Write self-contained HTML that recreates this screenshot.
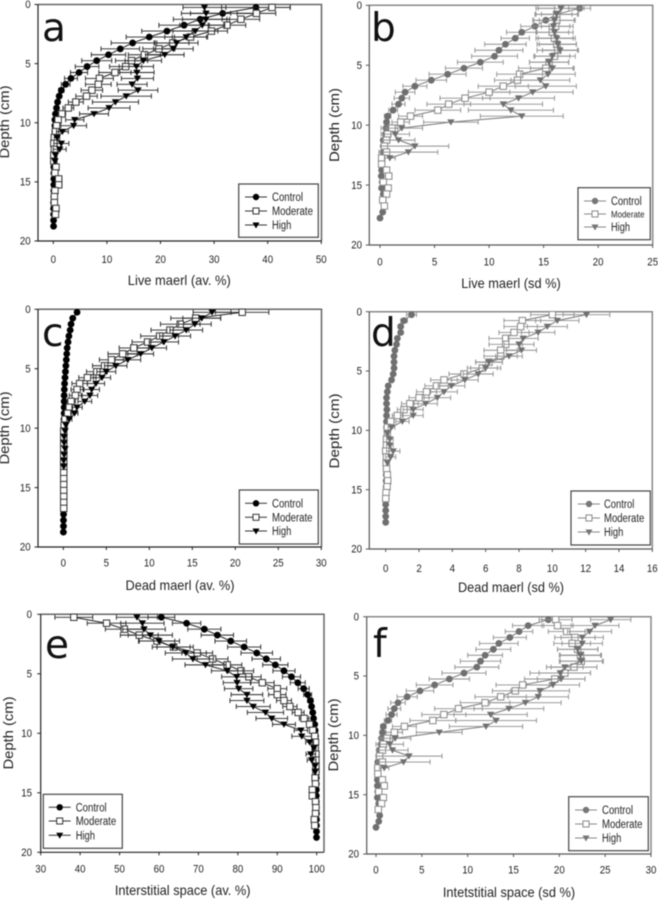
<!DOCTYPE html>
<html lang="en">
<head>
<meta charset="utf-8">
<title>Maerl depth profiles</title>
<style>
html,body{margin:0;padding:0;background:#fff;}
svg{display:block;font-family:"Liberation Sans",sans-serif;filter:blur(.4px);}
.tick{font-size:11px;fill:#222;}
.title{font-size:14px;fill:#222;}
.letter{font-family:"DejaVu Sans",sans-serif;font-size:39px;fill:#111;}
.leg{font-size:11.5px;fill:#222;}
.box{fill:#fff;stroke:#444;stroke-width:1.2;}
</style>
</head>
<body>
<svg id="fig" width="658" height="901" viewBox="0 0 658 901" xmlns="http://www.w3.org/2000/svg">
<g id="panel-a">
<text class="letter" x="42" y="41">a</text>
<text class="title" x="179.3" y="285" text-anchor="middle" textLength="103" lengthAdjust="spacingAndGlyphs">Live maerl (av. %)</text>
<text class="title" transform="translate(9,122) rotate(-90)" text-anchor="middle" textLength="73" lengthAdjust="spacingAndGlyphs">Depth (cm)</text>
</g>
<g id="panel-b">
<text class="letter" x="371" y="41">b</text>
<text class="title" x="511" y="288" text-anchor="middle" textLength="99.5" lengthAdjust="spacingAndGlyphs">Live maerl (sd %)</text>
<text class="title" transform="translate(339,125) rotate(-90)" text-anchor="middle" textLength="74" lengthAdjust="spacingAndGlyphs">Depth (cm)</text>
</g>
<g id="panel-c">
<text class="letter" x="42" y="346">c</text>
<text class="title" x="180" y="590" text-anchor="middle" textLength="109" lengthAdjust="spacingAndGlyphs">Dead maerl (av. %)</text>
<text class="title" transform="translate(9,428) rotate(-90)" text-anchor="middle" textLength="73" lengthAdjust="spacingAndGlyphs">Depth (cm)</text>
</g>
<g id="panel-d">
<text class="letter" x="371" y="346">d</text>
<text class="title" x="511" y="592" text-anchor="middle" textLength="106" lengthAdjust="spacingAndGlyphs">Dead maerl (sd %)</text>
<text class="title" transform="translate(339,431) rotate(-90)" text-anchor="middle" textLength="75" lengthAdjust="spacingAndGlyphs">Depth (cm)</text>
</g>
<g id="panel-e">
<text class="letter" x="45" y="658">e</text>
<text class="title" x="182.7" y="895" text-anchor="middle" textLength="135.7" lengthAdjust="spacingAndGlyphs">Interstitial space (av. %)</text>
<text class="title" transform="translate(13,733) rotate(-90)" text-anchor="middle" textLength="73" lengthAdjust="spacingAndGlyphs">Depth (cm)</text>
</g>
<g id="panel-f">
<text class="letter" x="373" y="657">f</text>
<text class="title" x="509" y="897" text-anchor="middle" textLength="132.3" lengthAdjust="spacingAndGlyphs">Intetstitial space (sd %)</text>
<text class="title" transform="translate(338,735) rotate(-90)" text-anchor="middle" textLength="73" lengthAdjust="spacingAndGlyphs">Depth (cm)</text>
</g>

<g id="legends">
<g>
<rect class="box" x="238.7" y="184" width="79.6" height="53.3"/>
<line x1="245" x2="267" y1="197" y2="197" stroke="#333"/><circle cx="256" cy="197" r="3.2" fill="#000"/>
<line x1="245" x2="267" y1="211" y2="211" stroke="#333"/><rect x="253" y="208" width="6" height="6" fill="#fff" stroke="#333"/>
<line x1="245" x2="267" y1="225" y2="225" stroke="#333"/><path d="M252.5 222.5h7l-3.5 6z" fill="#000"/>
<text class="leg" x="272" y="201" textLength="31" lengthAdjust="spacingAndGlyphs">Control</text><text class="leg" x="272" y="215" textLength="41" lengthAdjust="spacingAndGlyphs">Moderate</text><text class="leg" x="272" y="229" textLength="19.3" lengthAdjust="spacingAndGlyphs">High</text>
</g>
<g>
<rect class="box" x="578" y="187.7" width="72.3" height="52"/>
<line x1="584" x2="606" y1="201" y2="201" stroke="#888"/><circle cx="595" cy="201" r="3.2" fill="#777"/>
<line x1="584" x2="606" y1="214" y2="214" stroke="#888"/><rect x="592" y="211" width="6" height="6" fill="#fff" stroke="#888"/>
<line x1="584" x2="606" y1="227" y2="227" stroke="#888"/><path d="M591.5 224.5h7l-3.5 6z" fill="#777"/>
<text class="leg" x="611" y="205" textLength="30.7" lengthAdjust="spacingAndGlyphs">Control</text><text class="leg" x="611" y="217.5" style="font-size:9.3px" textLength="33.5" lengthAdjust="spacingAndGlyphs">Moderate</text><text class="leg" x="611" y="231" textLength="19" lengthAdjust="spacingAndGlyphs">High</text>
</g>
<g>
<rect class="box" x="239.3" y="490" width="79" height="54"/>
<line x1="245" x2="267" y1="503.3" y2="503.3" stroke="#333"/><circle cx="256" cy="503.3" r="3.2" fill="#000"/>
<line x1="245" x2="267" y1="517.3" y2="517.3" stroke="#333"/><rect x="253" y="514.3" width="6" height="6" fill="#fff" stroke="#333"/>
<line x1="245" x2="267" y1="531" y2="531" stroke="#333"/><path d="M252.5 528.5h7l-3.5 6z" fill="#000"/>
<text class="leg" x="272" y="507.3" textLength="31" lengthAdjust="spacingAndGlyphs">Control</text><text class="leg" x="272" y="521.3" textLength="40.5" lengthAdjust="spacingAndGlyphs">Moderate</text><text class="leg" x="272" y="535" textLength="19.3" lengthAdjust="spacingAndGlyphs">High</text>
</g>
<g>
<rect class="box" x="571" y="491" width="79.3" height="54"/>
<line x1="577.7" x2="600" y1="504" y2="504" stroke="#888"/><circle cx="589" cy="504" r="3.2" fill="#777"/>
<line x1="577.7" x2="600" y1="518" y2="518" stroke="#888"/><rect x="586" y="515" width="6" height="6" fill="#fff" stroke="#888"/>
<line x1="577.7" x2="600" y1="532" y2="532" stroke="#888"/><path d="M585.5 529.5h7l-3.5 6z" fill="#777"/>
<text class="leg" x="604" y="508" textLength="30.3" lengthAdjust="spacingAndGlyphs">Control</text><text class="leg" x="604" y="522" textLength="40.3" lengthAdjust="spacingAndGlyphs">Moderate</text><text class="leg" x="604" y="536" textLength="19.3" lengthAdjust="spacingAndGlyphs">High</text>
</g>
<g>
<rect class="box" x="43.3" y="794.3" width="79" height="54"/>
<line x1="48.7" x2="70.7" y1="807.3" y2="807.3" stroke="#333"/><circle cx="59.7" cy="807.3" r="3.2" fill="#000"/>
<line x1="48.7" x2="70.7" y1="821" y2="821" stroke="#333"/><rect x="56.7" y="818" width="6" height="6" fill="#fff" stroke="#333"/>
<line x1="48.7" x2="70.7" y1="835.3" y2="835.3" stroke="#333"/><path d="M56.2 832.8h7l-3.5 6z" fill="#000"/>
<text class="leg" x="75.7" y="811.3" textLength="31" lengthAdjust="spacingAndGlyphs">Control</text><text class="leg" x="75.7" y="825" textLength="40.5" lengthAdjust="spacingAndGlyphs">Moderate</text><text class="leg" x="75.7" y="839.3" textLength="19.3" lengthAdjust="spacingAndGlyphs">High</text>
</g>
<g>
<rect class="box" x="568.7" y="796.7" width="79.6" height="54"/>
<line x1="575" x2="597" y1="810" y2="810" stroke="#888"/><circle cx="586" cy="810" r="3.2" fill="#777"/>
<line x1="575" x2="597" y1="824" y2="824" stroke="#888"/><rect x="583" y="821" width="6" height="6" fill="#fff" stroke="#888"/>
<line x1="575" x2="597" y1="838" y2="838" stroke="#888"/><path d="M582.5 835.5h7l-3.5 6z" fill="#777"/>
<text class="leg" x="602" y="814" textLength="31" lengthAdjust="spacingAndGlyphs">Control</text><text class="leg" x="602" y="828" textLength="40.5" lengthAdjust="spacingAndGlyphs">Moderate</text><text class="leg" x="602" y="842" textLength="19.3" lengthAdjust="spacingAndGlyphs">High</text>
</g>
</g>
</svg>
<script>
// Shared categories (depth in cm)
const depths=[0.25,0.75,1.25,1.75,2.25,2.75,3.25,3.75,4.25,4.75,5.25,5.75,6.25,6.75,7.25,7.75,8.25,8.75,9.25,9.75,10.25,10.75,11.25,11.75,12.25,12.75,13.25,13.75,14.25,14.75,15.25,15.75,16.25,16.75,17.25,17.75,18.25,18.75];
const depthTicks=[0,5,10,15,20];

// Panel a: live maerl, average
const aXTicks=[0,10,20,30,40,50];
const aControl=[37.8,31.6,27.4,24.4,21.2,17.9,14.8,12.5,10.3,8.1,6.3,4.8,3.3,2.3,1.5,1.1,.8,.6,.4,.3,.3,.3,.3,.2,.2,.1,.1,.1,.1,.1,.1,.1,.1,.05,.05,.05,.05,.05];
const aControlErr=[6.4,6,5,4.7,4.7,4.3,4,3.6,3.2,2.8,2.2,1.6,1.2,.8,.5,.4,.3,.2,.2,.1];
const aModerate=[40.8,37.9,35,32.4,29.5,25.6,22.3,19.7,17,14.6,13.5,11.5,8.6,8.4,7.2,6.2,4.2,2.8,1.6,.9,.6,.4,.2,.1,.2,.1,.1,.5,.3,1,1,.3,.2,.2,.5,.4];
const aModerateErr=[3.4,3.6,3.5,3.5,3,3,3,3,3,3,3,3,2.6,2.4,2,2,1.4,1,.7,.4,.3,.2,.1,.1,.1,.1,.1,.2,.1,.6,.6,.1,.1,.1,.2,.2];
const aHigh=[28.2,28.5,28.5,27.8,26.5,24.8,23,22.4,20.8,16.8,15.5,15.6,15.7,14.7,15.8,13.6,11.6,10.4,7.6,4,3.8,1.7,.7,1.5,1.2,.4,.3];
const aHighErr=[4,4.6,4.4,4.2,4.2,4,4,3.7,3.6,3.4,3.2,3.2,3,2.8,3.7,4.7,4.3,3.9,2.7,1.7,2.4,1.1,.5,1.4,1.2,.2,.2];

// Panel b: live maerl, sd
const bXTicks=[0,5,10,15,20,25];
const bControl=[18.3,16.2,15.2,14.2,13,12.4,11.5,10.9,10.5,9.2,7.7,6.2,4.7,3.2,2.3,2,1.7,1.2,.7,.6,.55,.5,.3,.3,.3,.2,.15,.15,.12,.2,.15,.3,.3,.4,.25,0];
const bControlErr=[1,1.4,1.2,1.3,1.4,1.3,1.9,2.2,2.1,2.1,1.7,1.7,1.4,1.1,.9,.7,.6,.4,.3,.2,.2,.2,.1,.1,.1,.1,.1,.1,.1,.1,.1,.1,.1,.1,.1,0];
const bModerate=[16.3,16.2,16.2,16.1,15.8,16,16.2,16.3,16,15.5,15.2,12.8,12.6,11.3,10,7.8,6.3,5.3,2.8,1.9,1.1,.7,.6,.4,.6,.15,.15,.6,.8,.3,.75,.6,.25,.4];
const bModerateErr=[2,1.9,1.6,1.3,1.5,1.7,1.8,1.9,1.9,1.8,2.5,2.1,2.1,2.3,1.9,2.3,2,2.1,1.1,.8,.5,.3,.3,.2,.2,.1,.1,.2,.1,.1,.1,.1,.1,.1];
const bHigh=[16.6,16.2,16,15.9,16,16.2,16.3,16.5,15.8,15.5,15.8,15.4,14.7,15.2,14,12.7,11.3,12,13,6.5,2,1.4,1.7,3.2,2.6,.9];
const bHighErr=[2.1,2,1.9,1.8,1.7,1.7,1.7,1.6,1.6,1.8,2,2.5,2.7,2.8,3.7,3.3,3.6,3.9,3.8,2.5,1.9,1.3,1.5,3.1,2.7,.5];

// Panel c: dead maerl, average
const cXTicks=[0,5,10,15,20,25,30];
const cControl=[1.6,1.1,.9,.8,.65,.55,.45,.4,.35,.3,.25,.2,.15,.12,.1,.1,.1,.1,.08,.08,.08,.08,.08,.08,.08,.06,.06,.05,.05,.05,.05,.05,.05,.05,.03,.02,.02,.01];
const cControlErr=[.1,.1,.1,.1,.1,.1,.1,.1,.1,.1];
const cModerate=[20.8,15.4,13.6,12.4,11.2,9.8,8.2,6.9,5.6,4.8,3.9,2.8,1.9,1.6,1.4,.9,.7,.5,.2,.1,.05,.05,.05,.05,.05,.05,.05,.05,.05,.05,.05,.05,.05,.05];
const cModerateErr=[3.1,2.9,2.3,2.2,2.2,1.8,1.7,1.7,1.4,1.4,1.2,1,.9,.7,.7,.5,.3,.2,.1];
const cHigh=[17.3,16.1,15.3,14.3,13,11.7,10.3,9,7.5,6.1,5,4.5,3.8,3.3,3.1,2.5,1.6,1.3,.7,.3,.2,.1,.1,.2,.1,.05,.05];
const cHighErr=[2.2,2.2,1.9,1.9,1.8,1.7,1.7,1.5,1.5,1.3,1.1,1,1,.9,.9,.8,.6,.4,.3,.1];

// Panel d: dead maerl, sd
const dXTicks=[0,2,4,6,8,10,12,14,16];
const dControl=[1.55,1.1,.9,.9,.7,.65,.55,.5,.5,.5,.45,.35,.15,.1,.05,.05,.07,.05,.05,.05,.1,.05,.03,.03,.03,.03,.03,.03,.03,.03,.03,.03,0,0,0,0];
const dControlErr=[.3,.2,.15,.12,.12,.12,.12,.12,.12,.12,.1,.1,.05];
const dModerate=[10,8.2,8.1,7.7,7.2,7.2,6.9,6.9,6.2,5.8,4.7,3.5,3.05,2.45,2,1.45,1.1,.7,.3,.1,.1,.05,.05,0,.05,.03,.05,.1,.12,.08,.02,0];
const dModerateErr=[1.3,1.1,1,.9,1,1,1,1,.8,.9,.9,.8,.7,.6,.6,.5,.4,.3,.2,.05,.05];
const dHigh=[12.05,10.3,9.7,9.15,8.25,8,8.15,7.4,6.2,6,5.55,4.75,3.95,3.5,3.1,2.4,1.65,1.65,1,.35,.1,.25,.25,.45,.3,.1];
const dHighErr=[1.4,1.3,1.2,1,.9,.9,.9,.8,.8,.9,.9,.8,.8,.8,.8,.7,.6,.6,.4,.2,.1,.2,.2,.4,.3,.05];

// Panel e: interstitial space, average
const eXTicks=[30,40,50,60,70,80,90,100];
const eControl=[60.6,67,71.5,74.8,78.2,81.6,84.8,87.2,89.5,91.7,93.6,95.2,96.7,97.7,98.4,98.7,99,99.2,99.5,99.6,99.7,99.7,99.7,99.8,99.8,99.9,99.9,99.9,99.9,99.9,99.9,99.9,99.9,99.95,99.95,99.95,99.95,99.95];
const eControlErr=[3.4,3.6,4.2,4.1,4,4.2,4,3.6,3.2,2.8,2.3,1.9,1.4,1,.7,.5,.4,.3,.2,.2];
const eModerate=[38.4,46.7,51.2,55,59.5,63.7,69.7,73.6,77.3,80.8,82.8,86.2,90,90,91.7,93.2,95.3,96.8,98.2,99,99.5,99.7,99.6,99.8,99.8,99.8,99.8,99.6,99.7,98.9,98.9,99.7,99.8,99.7,99.4,99.5];
const eModerateErr=[4.8,4.9,4.8,4.8,4.5,4.2,3.9,3.9,3.7,3.2,3.1,3,2.4,2.2,1.9,1.8,1.5,1.2,.8,.5,.3,.2,.2,.1,.1,.1,.1,.2,.1,.5,.5,.1,.1,.1,.2,.2];
const eHigh=[54.4,55.8,56.2,57.8,60,63.5,66.8,68.6,71.8,77.3,79.7,79.8,80.2,82.3,82.3,83.9,87,88.6,91.7,96,96.2,98.2,99.3,98.5,98.7,99.6,99.6];
const eHighErr=[5.2,5.5,5.4,5.6,5.2,5.2,5.2,5.2,5.2,4,3.8,3.5,3.6,4,4.3,4.3,4.6,4,2.9,1.7,2.5,1,.5,1.2,1.1,.2,.2];

// Panel f: interstitial space, sd
const fXTicks=[0,5,10,15,20,25,30];
const fControl=[18.8,16.6,15.6,14.6,13.4,12.8,11.9,11.4,11,9.6,8,6.4,4.8,3.4,2.4,2,1.7,1.3,.8,.7,.6,.55,.35,.3,.2,.15,.15,.15,.15,.2,.15,.3,.3,.4,.3,0];
const fControlErr=[.7,1.7,1.5,1.8,2.1,1.9,1.9,2.2,2.4,2.4,2.2,2,1.5,1.1,.8,.7,.6,.4,.3,.2,.2,.2,.1,.1,.1,.1,.1,.1,.1,.1,.1,.1,.1,.1,.1,0];
const fModerate=[19.6,19.8,20.8,21.7,21.4,22,22.3,22.4,21.6,20.6,19.5,16,15.2,13.6,11.9,9,7.4,6.2,3.1,2,1.2,.8,.7,.4,.7,.2,.2,.7,.9,.3,.8,.6,.25];
const fModerateErr=[1.8,1.7,2,2.2,2,2.2,2.2,2.3,2.5,2.8,3.3,2.9,2.5,2.8,2.7,2.6,2.4,2.5,1.3,.9,.6,.3,.3,.2,.2,.1,.1,.2,.1,.1,.1,.1,.1];
const fHigh=[25.6,23.9,23.3,22.5,22.5,22,22.3,22.4,20.6,20.1,20.2,19.3,17.9,17.7,16.3,14.5,12.5,13.1,12,6.9,2.1,1.5,1.8,3.6,3,.9];
const fHighErr=[2.2,2.6,2.4,2.3,2.2,2.2,2.3,2.4,2,3.3,2.6,2.9,3.2,3.3,3.9,3.8,4,4.4,4,2.5,1.7,1.5,1.7,3.6,2.9,.5];

const panels=[
 {key:'a',left:38,right:321.5,top:4.5,bottom:241,x0:53.3,x1:321.3,min:0,max:50,ticks:aXTicks,labelDy:22,yLabelX:30.7,gray:false,s:[[aControl,aControlErr],[aModerate,aModerateErr],[aHigh,aHighErr]]},
 {key:'b',left:369.3,right:652.7,top:5.3,bottom:245,x0:380,x1:652.7,min:0,max:25,ticks:bXTicks,labelDy:20.5,yLabelX:362,gray:true,s:[[bControl,bControlErr],[bModerate,bModerateErr],[bHigh,bHighErr]]},
 {key:'c',left:38,right:321.5,top:309.3,bottom:547,x0:63.3,x1:321.3,min:0,max:30,ticks:cXTicks,labelDy:19.5,yLabelX:30.7,gray:false,s:[[cControl,cControlErr],[cModerate,cModerateErr],[cHigh,cHighErr]]},
 {key:'d',left:369.3,right:652.3,top:311.7,bottom:549,x0:385.7,x1:652.3,min:0,max:16,ticks:dXTicks,labelDy:23,yLabelX:362,gray:true,s:[[dControl,dControlErr],[dModerate,dModerateErr],[dHigh,dHighErr]]},
 {key:'e',left:40.7,right:324,top:614.3,bottom:852.3,x0:40.7,x1:316.7,min:30,max:100,ticks:eXTicks,labelDy:20,yLabelX:32,gray:false,s:[[eControl,eControlErr],[eModerate,eModerateErr],[eHigh,eHighErr]]},
 {key:'f',left:366.7,right:651,top:616.7,bottom:854,x0:376,x1:651,min:0,max:30,ticks:fXTicks,labelDy:19.5,yLabelX:359,gray:true,s:[[fControl,fControlErr],[fModerate,fModerateErr],[fHigh,fHighErr]]}
];
const seriesNames=['control','moderate','high'];
const NS='http://www.w3.org/2000/svg';

function make(parent,tag,attrs){
  const n=document.createElementNS(NS,tag);
  for(const k in attrs)n.setAttribute(k,attrs[k]);
  parent.appendChild(n);
  return n;
}

panels.forEach(function(p){
  const g=document.getElementById('panel-'+p.key);
  const xScale=function(v){return p.x0+(v-p.min)*(p.x1-p.x0)/(p.max-p.min);};
  const yScale=function(d){return p.top+d*(p.bottom-p.top)/20;};
  const dark=p.gray?'#555':'#222';
  const lite=p.gray?'#888':'#666';

  const frame=make(g,'path',{d:`M${p.left} ${p.top}H${p.right}V${p.bottom}`,fill:'none',stroke:lite,'stroke-width':1.5});
  
  
  const axes=make(g,'path',{d:`M${p.left} ${p.top}V${p.bottom}H${p.right}`,fill:'none',stroke:dark,'stroke-width':1.2});
  
  

  p.ticks.forEach(function(t){
    const x=xScale(t);
    const tk=make(g,'line',{x1:x,x2:x,y1:p.bottom,y2:p.bottom+3,stroke:dark});
    
    
    const lb=make(g,'text',{x:x,y:p.bottom+p.labelDy,'text-anchor':'middle','class':'tick',textLength:String(t).length*5.4,lengthAdjust:'spacingAndGlyphs'});
    lb.textContent=t;
    
    
  });
  depthTicks.forEach(function(t){
    const y=yScale(t);
    const tk=make(g,'line',{x1:p.left-3.5,x2:p.left,y1:y,y2:y,stroke:dark});
    
    
    const lb=make(g,'text',{x:p.yLabelX,y:y+3.7,'text-anchor':'end','class':'tick',textLength:String(t).length*5.4,lengthAdjust:'spacingAndGlyphs'});
    lb.textContent=t;
    
    
  });

  const markFill=p.gray?'#6f6f6f':'#000';
  const lineCol=p.gray?'#777':'#222';
  const barCol=p.gray?'#8e8e8e':'#222';
  p.s.forEach(function(pair,si){
    const vals=pair[0],errs=pair[1];
    const sg=make(g,'g',{});
    
    
    let d='';
    vals.forEach(function(v,i){
      if(v===null)return;
      d+=(d?'L':'M')+xScale(v).toFixed(2)+' '+yScale(depths[i]).toFixed(2);
    });
    const ln=make(sg,'path',{d:d,fill:'none',stroke:lineCol,'stroke-width':1});
    
    
    vals.forEach(function(v,i){
      if(v===null)return;
      const e=errs[i]||0;
      if(e<=0)return;
      const y=yScale(depths[i]),xa=xScale(v-e),xb=xScale(v+e);
      const eb=make(sg,'path',{d:`M${xa} ${y}H${xb}M${xa} ${y-2.5}v5M${xb} ${y-2.5}v5`,fill:'none',stroke:barCol,'stroke-width':.9});
      
      
    });
    vals.forEach(function(v,i){
      if(v===null)return;
      const x=xScale(v),y=yScale(depths[i]);
      let m;
      if(si===0){
        m=make(sg,'circle',{cx:x,cy:y,r:3.4,fill:markFill});
      }else if(si===1){
        m=make(sg,'rect',{x:x-3.2,y:y-3.2,width:6.4,height:6.4,fill:'#fff',stroke:p.gray?'#888':'#333','stroke-width':1});
      }else{
        m=make(sg,'path',{d:`M${x-3.7} ${y-2.8}h7.4l-3.7 6.2z`,fill:markFill});
      }
      
      
    });
  });
});
// keep legends above marks
const fig=document.getElementById('fig');
fig.appendChild(document.getElementById('legends'));
</script>
</body>
</html>
